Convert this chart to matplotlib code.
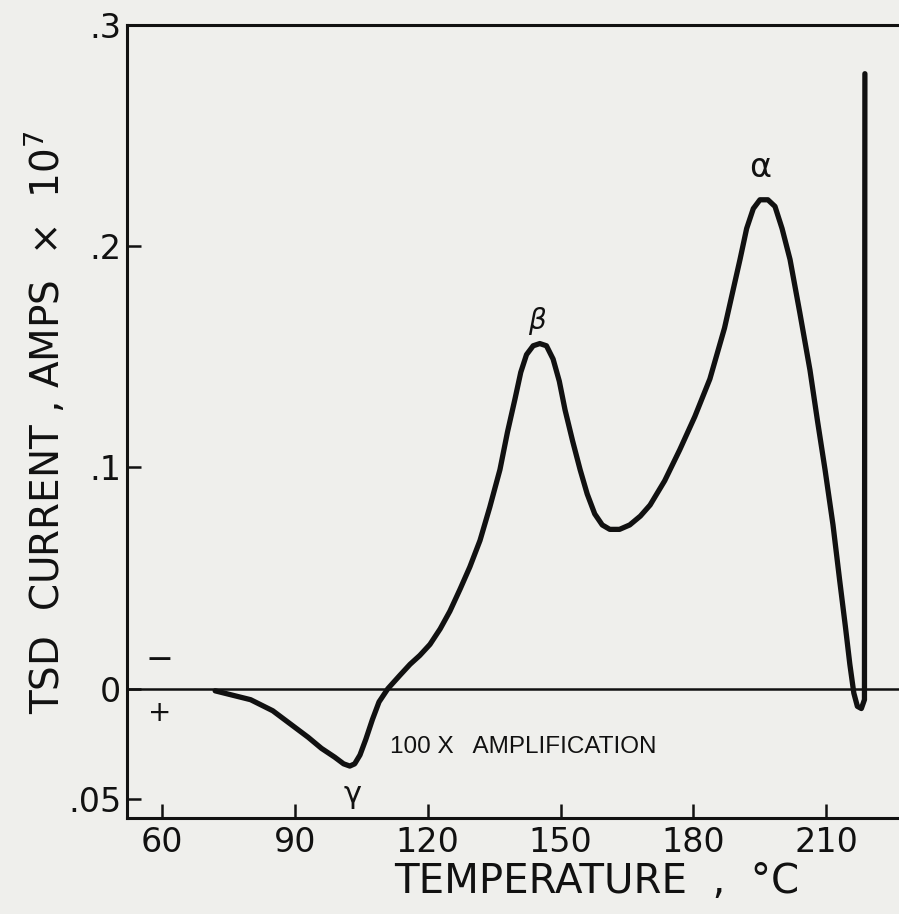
import matplotlib
matplotlib.use('Agg')
import matplotlib.pyplot as plt

plt.rcParams['font.family'] = ['Liberation Sans Narrow', 'DejaVu Sans']

# TSD current curve, temperature in C, current in amps x 1e7
temp = [72, 76, 80, 85, 89, 93, 96, 99, 101, 102.4, 103.5, 104.7, 106, 107.5, 109, 111,
        113.7, 116, 118.2, 120.5, 122.8, 125, 127.3, 129.5, 131.8, 134, 136.3, 138,
        139.7, 141, 142.3, 143.8, 145.3, 146.8, 148.3, 149.7, 151, 152.7, 154.4, 156,
        157.7, 159.4, 161.1, 163.3, 165.6, 168, 170.2, 173.5, 176.9, 180.3, 183.7,
        187, 190.5, 192, 193.5, 195, 196.8, 198.4, 200, 201.8, 204, 206.3, 208,
        209.7, 211.5, 213, 214.3, 215.3, 216.2, 217, 217.9, 218.6, 218.7]
current = [-0.001, -0.003, -0.005, -0.010, -0.016, -0.022, -0.027, -0.031, -0.034, -0.035,
           -0.034, -0.030, -0.023, -0.014, -0.006, 0.0,
           0.006, 0.011, 0.015, 0.020, 0.027, 0.035, 0.045, 0.055, 0.067, 0.082, 0.099,
           0.116, 0.131, 0.143, 0.151, 0.155, 0.156, 0.155, 0.149, 0.139, 0.126, 0.112,
           0.099, 0.088, 0.079, 0.074, 0.072, 0.072, 0.074, 0.078, 0.083, 0.094, 0.108,
           0.123, 0.140, 0.163, 0.194, 0.208, 0.217, 0.221, 0.221, 0.218, 0.208, 0.194,
           0.170, 0.144, 0.121, 0.099, 0.074, 0.049, 0.028, 0.011, -0.002, -0.008,
           -0.009, -0.005, 0.278]

xticks = [60, 90, 120, 150, 180, 210]
yticks = [-0.05, 0, 0.1, 0.2, 0.3]
ytick_labels = ['.05', '0', '.1', '.2', '.3']

ink = '#111111'
bg = '#efefec'
fig = plt.figure(figsize=(8.99, 9.14), dpi=100, facecolor=bg)
ax = fig.add_axes([0.1413, 0.105, 0.8587, 0.8676])
ax.set_facecolor(bg)

ax.plot(temp, current, color=ink, lw=3.8, solid_capstyle='round', solid_joinstyle='round')
ax.axhline(0, color=ink, lw=1.8)

ax.set_xlim(52.1, 226.4)
ax.set_ylim(-0.0585, 0.3)
ax.set_xticks(xticks)
ax.set_yticks(yticks)
ax.set_yticklabels(ytick_labels)
ax.tick_params(direction='in', length=10, width=1.8, labelsize=24, colors=ink, pad=6)
ax.tick_params(axis='y', pad=4)
for s in ['left', 'bottom', 'top']:
    ax.spines[s].set_linewidth(2.2)
    ax.spines[s].set_color(ink)
ax.spines['right'].set_visible(False)

fig.text(597 / 899, 1 - 882 / 914, 'TEMPERATURE  ,  \u00b0C', fontsize=29, color=ink,
         ha='center', va='center')
fig.text(45 / 899, 1 - 422 / 914, 'TSD  CURRENT , AMPS  \u00d7  10$^{7}$', fontsize=28,
         color=ink, ha='center', va='center', rotation=90)

ax.text(195, 0.228, '\u03b1', fontsize=24, ha='center', va='bottom', color=ink)
ax.text(144.6, 0.160, '\u03b2', fontsize=20, ha='center', va='bottom', style='italic', color=ink)
ax.text(103, -0.048, '\u03b3', fontsize=22, ha='center', va='center', color=ink)
ax.text(111.5, -0.0262, '100 X   AMPLIFICATION', fontsize=17.5, ha='left', va='center',
        family='Liberation Sans', color=ink)
ax.text(59.5, 0.013, '\u2212', fontsize=24, ha='center', va='center', color=ink,
        family='DejaVu Sans')
ax.text(59.5, -0.011, '+', fontsize=20, ha='center', va='center', color=ink,
        family='DejaVu Sans')

fig.savefig('out.png', dpi=100, facecolor=bg)
